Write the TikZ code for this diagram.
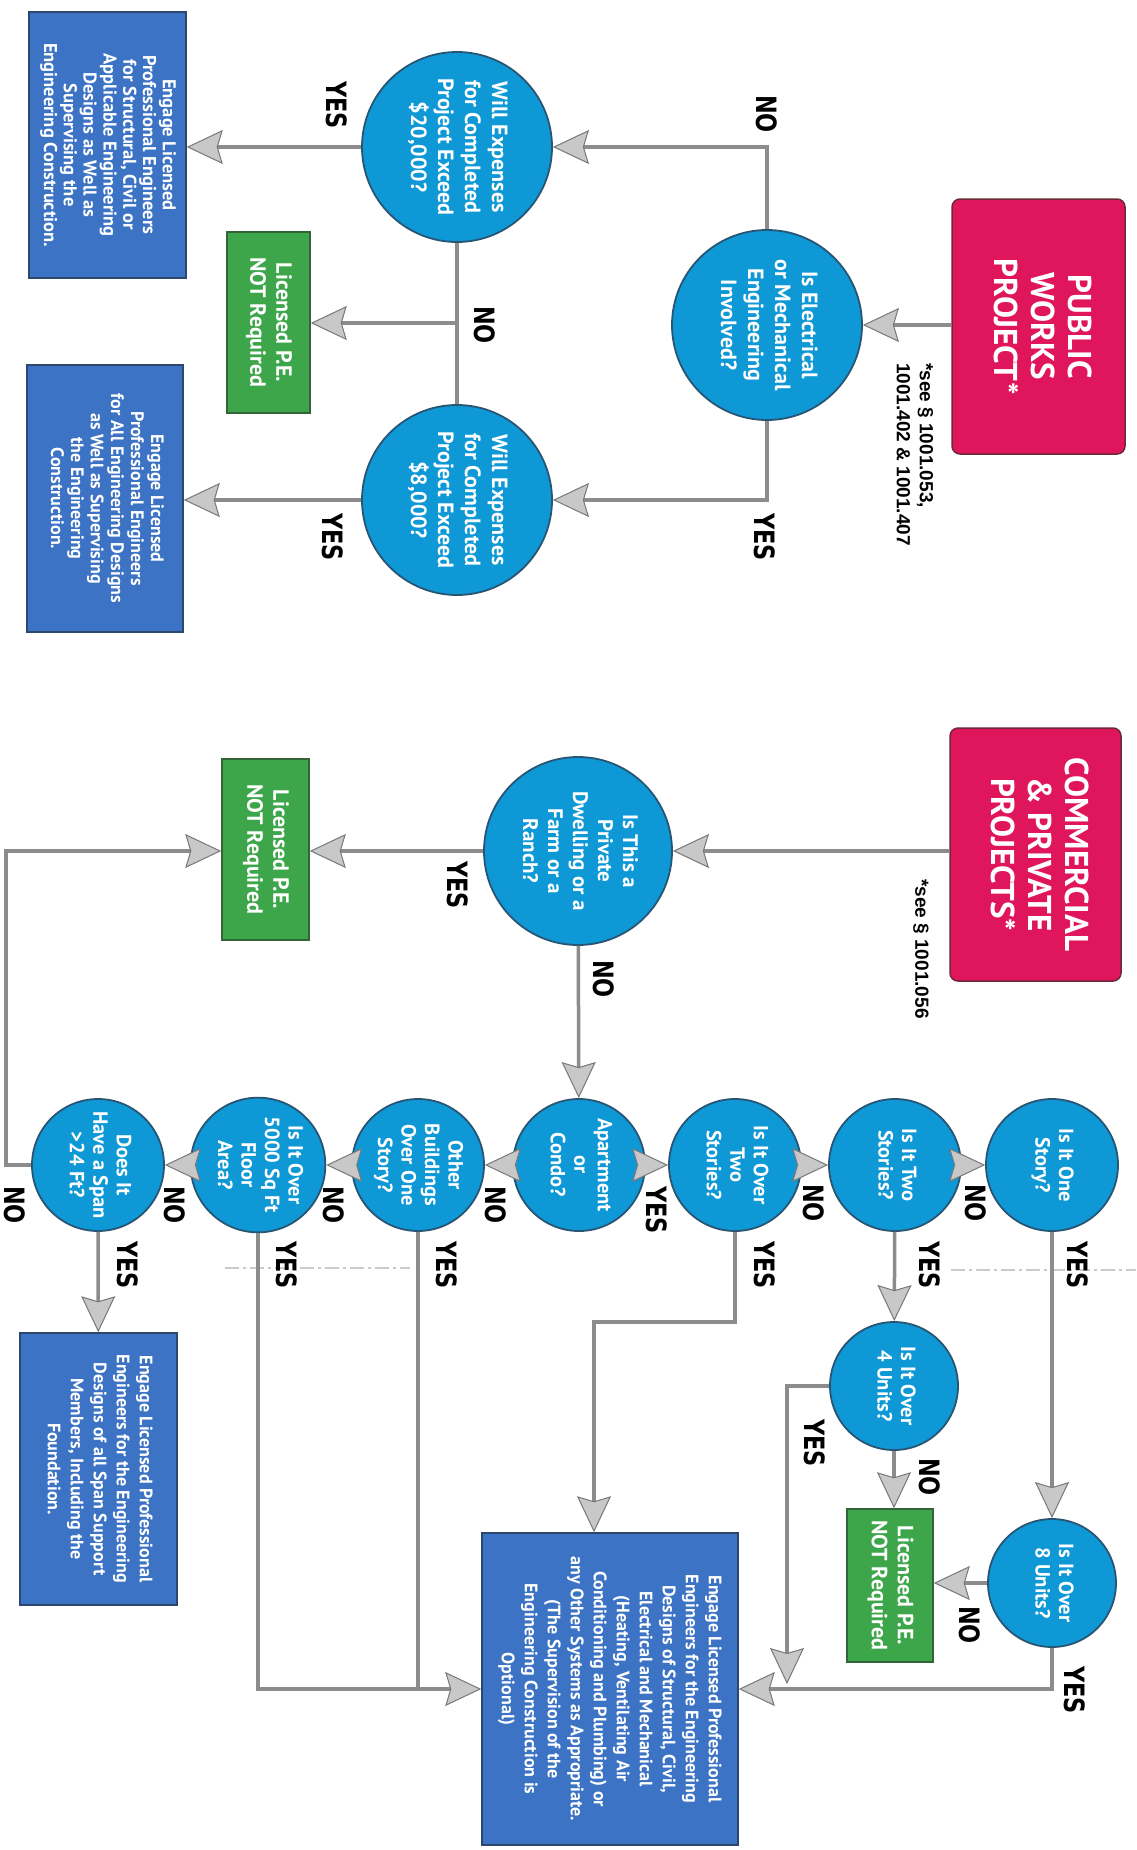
\documentclass[tikz,border=0pt]{standalone}
\usepackage{fontspec}
\setmainfont{PT Sans}
\newfontfamily\lblfont{DejaVu Sans}
\newfontfamily\notefont{Liberation Sans}
\usetikzlibrary{arrows.meta}
\definecolor{circblue}{RGB}{14,152,214}
\definecolor{circedge}{RGB}{40,85,115}
\definecolor{boxblue}{RGB}{60,115,196}
\definecolor{boxedge}{RGB}{45,70,110}
\definecolor{boxgreen}{RGB}{62,166,74}
\definecolor{greenedge}{RGB}{50,100,55}
\definecolor{boxred}{RGB}{224,22,92}
\definecolor{rededge}{RGB}{110,40,55}
\definecolor{linegray}{RGB}{140,140,140}
\definecolor{tipfill}{RGB}{200,200,200}
\definecolor{tipdraw}{RGB}{120,120,120}
\newcommand{\rtext}[2][c]{\rotatebox{-90}{\begin{tabular}{@{}#1@{}}#2\end{tabular}}}
\newcommand{\lab}[1]{\rotatebox{-90}{\scalebox{0.8}[1]{#1}}}
\begin{document}
\begin{tikzpicture}[x=1pt,y=-1pt,
  circ/.style={circle, fill=circblue, draw=circedge, line width=1.8pt, inner sep=0pt, text=white, minimum size=190, font=\bfseries\fontsize{22}{27}\selectfont},
  rowc/.style={circ, minimum size=132, font=\bfseries\fontsize{20.5}{23.5}\selectfont},
  bbox/.style={rectangle, fill=boxblue, draw=boxedge, line width=1.5pt, inner sep=0pt, text=white, font=\bfseries\fontsize{18.5}{19.8}\selectfont},
  gbox/.style={rectangle, fill=boxgreen, draw=greenedge, line width=1.5pt, inner sep=0pt, text=white, font=\bfseries\fontsize{22}{26}\selectfont},
  rbox/.style={rectangle, rounded corners=8pt, fill=boxred, draw=rededge, line width=1.5pt, inner sep=0pt, text=white, font=\bfseries\fontsize{33}{37}\selectfont},
  note/.style={inner sep=0pt, text=black, font=\notefont\bfseries\fontsize{19}{23}\selectfont},
  lbl/.style={inner sep=0pt, text=black, font=\lblfont\bfseries\fontsize{28}{28}\selectfont},
  ln/.style={draw=linegray, line width=3.5pt},
  arr/.style={ln, -{Stealth[length=36pt, width=34pt, inset=5pt, fill=tipfill, color=tipdraw, line width=1pt]}},
  faint/.style={draw=linegray!45, line width=1.2pt, dash pattern=on 14pt off 4pt on 3pt off 4pt}
]
\useasboundingbox (0,0) rectangle (1136,1850);
\fill[white] (0,0) rectangle (1136,1850);

% faint marks
\draw[faint] (225,1268) -- (410,1268);
\draw[faint] (951,1270) -- (1136,1270);

% ---------- Public works ----------
\node[bbox, minimum width=157, minimum height=266] (pbox1) at (107.5,145) {\rtext{Engage Licensed\\Professional Engineers\\for Structural, Civil or\\Applicable Engineering\\Designs as Well as\\Supervising the\\Engineering Construction.}};
\node[circ] (q20) at (457,147) {\rtext{Will Expenses\\for Completed\\Project Exceed\\\$20,000?}};
\node[gbox, minimum width=83, minimum height=181] (pg1) at (268.5,322.5) {\rtext{Licensed P.E.\\NOT Required}};
\node[circ] (q8) at (457,500) {\rtext{Will Expenses\\for Completed\\Project Exceed\\\$8,000?}};
\node[bbox, minimum width=156, minimum height=267, font=\bfseries\fontsize{18}{20}\selectfont] (pbox2) at (105,498.5) {\rtext{Engage Licensed\\Professional Engineers\\for All Engineering Designs\\as Well as Supervising\\the Engineering\\Construction.}};
\node[circ] (elec) at (767,325) {\rtext{Is Electrical\\or Mechanical\\Engineering\\Involved?}};
\node[rbox, minimum width=173, minimum height=255] (pw) at (1038.5,326.5) {\rtext{PUBLIC\\WORKS\\PROJECT*}};
\node[note, anchor=north] (n1) at (913,363) {\rtext[l]{*see § 1001.053,\\1001.402 \& 1001.407}};

\draw[arr] (pw.west |- elec) -- (elec);
\draw[arr] (elec) |- (q20);
\draw[arr] (elec) |- (q8);
\draw[arr] (q20) -- (q20 -| pbox1.east);
\draw[ln] (q20) -- (q8);
\coordinate (j1) at (457,323);
\draw[arr] (j1) -- (j1 -| pg1.east);
\draw[arr] (q8) -- (q8 -| pbox2.east);

\node[lbl] (l1) at (767,114) {\lab{NO}};
\node[lbl] (l2) at (765,537) {\lab{YES}};
\node[lbl] (l3) at (337,105) {\lab{YES}};
\node[lbl] (l4) at (485,325) {\lab{NO}};
\node[lbl] (l5) at (333,537) {\lab{YES}};

% ---------- Commercial & private ----------
\node[rbox, minimum width=171, minimum height=253] (cpp) at (1035.5,854.5) {\rtext{COMMERCIAL\\\& PRIVATE\\PROJECTS*}};
\node[note, anchor=north] (n2) at (920,879) {\rtext{*see § 1001.056}};
\node[circ, minimum size=188, font=\bfseries\fontsize{21}{25}\selectfont] (ranch) at (578,851) {\rtext{Is This a\\Private\\Dwelling or a\\Farm or a\\Ranch?}};
\node[gbox, minimum width=87, minimum height=181] (pg2) at (265.5,849.5) {\rtext{Licensed P.E.\\NOT Required}};

\node[rowc] (one) at (1052,1165) {\rtext{Is It One\\Story?}};
\node[rowc] (two) at (895,1165) {\rtext{Is It Two\\Stories?}};
\node[rowc] (over2) at (735,1165) {\rtext{Is It Over\\Two\\Stories?}};
\node[rowc] (apt) at (579,1165) {\rtext{Apartment\\or\\Condo?}};
\node[rowc] (other) at (418,1165) {\rtext{Other\\Buildings\\Over One\\Story?}};
\node[rowc] (k5000) at (258,1165) {\rtext{Is It Over\\5000 Sq Ft\\Floor\\Area?}};
\node[rowc] (span) at (98,1165) {\rtext{Does It\\Have a Span\\>24 Ft?}};

\node[rowc, minimum size=128] (four) at (894,1386) {\rtext{Is It Over\\4 Units?}};
\node[rowc, minimum size=128] (eight) at (1052,1583) {\rtext{Is It Over\\8 Units?}};
\node[gbox, minimum width=86, minimum height=153] (pg3) at (890,1585.5) {\rtext{Licensed P.E.\\NOT Required}};
\node[bbox, minimum width=256, minimum height=312, font=\bfseries\fontsize{18}{23}\selectfont] (bigbox) at (610,1689) {\rtext{Engage Licensed Professional\\Engineers for the Engineering\\Designs of Structural, Civil,\\Electrical and Mechanical\\(Heating, Ventilating Air\\Conditioning and Plumbing) or\\any Other Systems as Appropriate.\\(The Supervision of the\\Engineering Construction is\\Optional)}};
\node[bbox, minimum width=157, minimum height=272, font=\bfseries\fontsize{18}{23}\selectfont] (spanbox) at (98.5,1469) {\rtext{Engage Licensed Professional\\Engineers for the Engineering\\Designs of all Span Support\\Members, Including the\\Foundation.}};

\draw[arr] (cpp.west |- ranch) -- (ranch);
\draw[arr] (ranch) -- (ranch -| pg2.east);
\draw[arr] (ranch) -- (apt);
\draw[arr] (apt) -- (other);
\draw[arr] (other) -- (k5000);
\draw[arr] (k5000) -- (span);
\draw[arr] (apt) -- (over2);
\draw[arr] (over2) -- (two);
\draw[arr] (two) -- (one);
\coordinate (c1) at (6,851);
\draw[arr] (span) -| (c1) -- (c1 -| pg2.west);
\draw[arr] (one) -- (eight);
\draw[arr] (two) -- (four);
\draw[arr] (four) -- (four |- pg3.north);
\draw[arr] (eight) -- (eight -| pg3.east);
\draw[arr] (eight) |- (bigbox);
\coordinate (c3) at (787,1684);
\draw[arr] (four) -| (c3);
\coordinate (c2) at (594,1322);
\draw[arr] (over2) |- (c2) -- (c2 |- bigbox.north);
\draw[arr] (k5000) |- (bigbox);
\draw[ln] (other) -- (other |- bigbox);
\draw[arr] (span) -- (spanbox);

\node[lbl] (m1) at (458,885) {\lab{YES}};
\node[lbl] (m2) at (604,979) {\lab{NO}};
\node[lbl] (m3) at (15,1205) {\lab{NO}};
\node[lbl] (m4) at (175,1205) {\lab{NO}};
\node[lbl] (m5) at (334,1205) {\lab{NO}};
\node[lbl] (m6) at (496,1205) {\lab{NO}};
\node[lbl] (m7) at (657,1210) {\lab{YES}};
\node[lbl] (m8) at (814,1203) {\lab{NO}};
\node[lbl] (m9) at (976,1203) {\lab{NO}};
\node[lbl] (y1) at (128,1265) {\lab{YES}};
\node[lbl] (y2) at (287,1265) {\lab{YES}};
\node[lbl] (y3) at (447,1265) {\lab{YES}};
\node[lbl] (y4) at (765,1265) {\lab{YES}};
\node[lbl] (y5) at (930,1265) {\lab{YES}};
\node[lbl] (y6) at (1078,1265) {\lab{YES}};
\node[lbl] (m10) at (930,1477) {\lab{NO}};
\node[lbl] (y7) at (815,1443) {\lab{YES}};
\node[lbl] (m11) at (970,1625) {\lab{NO}};
\node[lbl] (y8) at (1075,1690) {\lab{YES}};
\end{tikzpicture}
\end{document}
